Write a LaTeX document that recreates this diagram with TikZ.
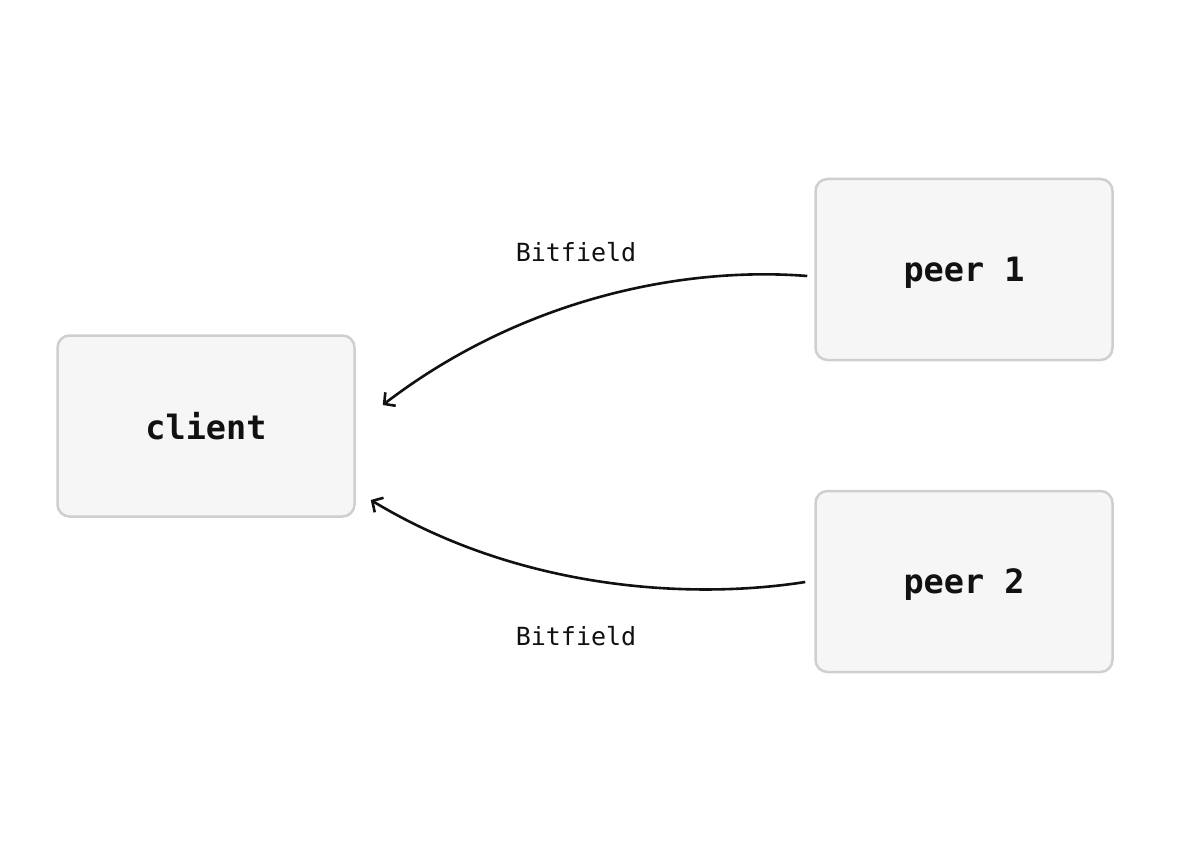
\documentclass[tikz,border=0pt]{standalone}
\usepackage{fontspec}
\setmonofont{DejaVu Sans Mono}
\usetikzlibrary{arrows.meta}
\definecolor{boxfill}{HTML}{F6F6F6}
\definecolor{boxline}{HTML}{CFCFCF}
\definecolor{ink}{HTML}{111111}
\tikzset{
  peerbox/.style={draw=boxline, line width=2.5pt, fill=boxfill, rounded corners=12pt,
    minimum width=297pt, minimum height=181pt, inner sep=0pt,
    text depth=0pt,
    font=\ttfamily\bfseries\fontsize{33.5}{36}\selectfont, text=ink},
  msg/.style={draw=ink, line width=2.6pt, -{Straight Barb[length=8pt,width=17pt]}},
  lbl/.style={font=\ttfamily\fontsize{25}{28}\selectfont, text=ink, inner sep=0pt}
}
\begin{document}
\begin{tikzpicture}[x=1pt,y=-1pt]
\useasboundingbox (0,0) rectangle (1200,853);
\fill[white] (0,0) rectangle (1200,853);
\node[peerbox] (client) at (206,426) {client};
\node[peerbox] (peer1) at (964,269.5) {peer 1};
\node[peerbox] (peer2) at (964,581.5) {peer 2};
\node[lbl] (l1) at (576,252) {Bitfield};
\node[lbl] (l2) at (576,636) {Bitfield};
\draw[msg] ([xshift=-7pt,yshift=-6.5pt]peer1.west) .. controls +(-127,-10) and +(137,-105) .. ([xshift=27pt,yshift=21pt]client.east);
\draw[msg] ([xshift=-9pt,yshift=-0.5pt]peer2.west) .. controls +(-115,18) and +(149,90) .. ([xshift=15pt,yshift=-74pt]client.east);
\end{tikzpicture}
\end{document}
